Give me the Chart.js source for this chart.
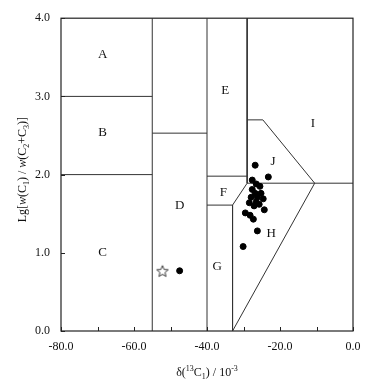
<!DOCTYPE html>
<html>
<head>
<meta charset="utf-8">
<script src="https://cdn.jsdelivr.net/npm/chart.js@4.4.1/dist/chart.umd.min.js"></script>
<style>
  html, body { margin: 0; padding: 0; background: #fff; }
</style>
</head>
<body>
<canvas id="chart" width="370" height="389"></canvas>
<script>
// sample points, delta13C1 vs Lg[w(C1)/w(C2+C3)]
const sample_x = [-26.8, -23.2, -27.6, -26.5, -25.5, -27.6, -26.8, -25.2, -27.9, -26.2, -24.6,
                  -28.4, -26.5, -27.1, -25.7, -24.3, -29.5, -28.2, -27.3, -26.2, -30.1, -47.5];
const sample_y = [2.12, 1.97, 1.93, 1.88, 1.85, 1.81, 1.76, 1.76, 1.71, 1.71, 1.69,
                  1.64, 1.65, 1.60, 1.62, 1.55, 1.51, 1.48, 1.43, 1.28, 1.08, 0.77];
const star_x = [-52.2];
const star_y = [0.77];

// region boundaries (data coordinates)
const boundaries = [
  [[-80, 3.0], [-55, 3.0]],
  [[-80, 2.0], [-55, 2.0]],
  [[-55, 0], [-55, 4.0]],
  [[-55, 2.53], [-40, 2.53]],
  [[-40, 0], [-40, 4.0]],
  [[-29, 4.0], [-29, 1.89]],
  [[-40, 1.98], [-29, 1.98]],
  [[-29, 2.70], [-24.7, 2.70], [-10.5, 1.89]],
  [[-29, 1.89], [0, 1.89]],
  [[-29, 1.89], [-33, 1.61], [-33, 0]],
  [[-40, 1.61], [-33, 1.61]],
  [[-10.5, 1.89], [-33, 0]]
];

const region_names = ['A', 'B', 'C', 'D', 'E', 'F', 'G', 'H', 'I', 'J'];
const region_x = [-68.6, -68.6, -68.6, -47.5, -35.0, -35.5, -37.2, -22.4, -11.0, -21.9];
const region_y = [3.54, 2.54, 1.0, 1.61, 3.08, 1.77, 0.82, 1.25, 2.65, 2.17];

const x_ticks = [-80, -70, -60, -50, -40, -30, -20, -10, 0];
const y_ticks = [0, 1, 2, 3, 4];

const serif = '"Liberation Serif", "DejaVu Serif", serif';

// axis titles as runs: [text, style] where style n=normal, i=italic, b=subscript, p=superscript
const x_title = [['δ(', 'n'], ['13', 'p'], ['C', 'n'], ['1', 'b'], [') / 10', 'n'], ['-3', 'p']];
const y_title = [['Lg[', 'n'], ['w', 'i'], ['(C', 'n'], ['1', 'b'], [') / ', 'n'], ['w', 'i'],
                 ['(C', 'n'], ['2', 'b'], ['+C', 'n'], ['3', 'b'], [')]', 'n']];

// open five-point star marker
function makeStar(r) {
  const c = document.createElement('canvas');
  c.width = c.height = r * 2 + 4;
  const g = c.getContext('2d');
  g.beginPath();
  for (let i = 0; i < 10; i++) {
    const rad = i % 2 === 0 ? r : r * 0.45;
    const a = -Math.PI / 2 + i * Math.PI / 5;
    const px = c.width / 2 + rad * Math.cos(a);
    const py = c.height / 2 + rad * Math.sin(a) + 0.8;
    if (i === 0) g.moveTo(px, py); else g.lineTo(px, py);
  }
  g.closePath();
  g.strokeStyle = '#222';
  g.lineWidth = 0.9;
  g.stroke();
  return c;
}

function runFont(style) {
  if (style === 'i') return 'italic 12px ' + serif;
  if (style === 'b' || style === 'p') return '8px ' + serif;
  return '12px ' + serif;
}

function runsWidth(ctx, runs) {
  let w = 0;
  runs.forEach(r => { ctx.font = runFont(r[1]); w += ctx.measureText(r[0]).width; });
  return w;
}

// draws runs centred at (0,0) on current transform
function drawRuns(ctx, runs) {
  let cx = -runsWidth(ctx, runs) / 2;
  ctx.textBaseline = 'alphabetic';
  ctx.textAlign = 'left';
  runs.forEach(r => {
    ctx.font = runFont(r[1]);
    let dy = 4;
    if (r[1] === 'b') dy = 7;
    if (r[1] === 'p') dy = -1;
    ctx.fillText(r[0], cx, dy);
    cx += ctx.measureText(r[0]).width;
  });
}

let datasets = [];
boundaries.forEach(seg => {
  datasets.push({
    data: seg.map(p => ({x: p[0], y: p[1]})),
    showLine: true,
    borderColor: '#333',
    borderWidth: 1,
    pointRadius: 0,
    fill: false,
    order: 2
  });
});
datasets.push({
  data: sample_x.map((v, i) => ({x: v, y: sample_y[i]})),
  backgroundColor: '#000',
  borderColor: '#000',
  pointRadius: 3,
  showLine: false,
  order: 1
});
datasets.push({
  data: star_x.map((v, i) => ({x: v, y: star_y[i]})),
  pointStyle: makeStar(6),
  showLine: false,
  order: 1
});

const framePlugin = {
  id: 'frame',
  afterDraw(chart) {
    const {ctx, chartArea: a, scales: {x, y}} = chart;
    ctx.save();
    ctx.strokeStyle = '#222';
    ctx.lineWidth = 1.2;
    ctx.strokeRect(a.left, a.top, a.right - a.left, a.bottom - a.top);
    ctx.lineWidth = 1;
    x_ticks.forEach(v => {
      const px = Math.round(x.getPixelForValue(v)) + 0.5;
      ctx.beginPath();
      ctx.moveTo(px, a.bottom);
      ctx.lineTo(px, a.bottom - 4);
      ctx.stroke();
    });
    y_ticks.forEach(v => {
      const py = Math.round(y.getPixelForValue(v)) + 0.5;
      ctx.beginPath();
      ctx.moveTo(a.left, py);
      ctx.lineTo(a.left + 4, py);
      ctx.stroke();
    });
    // region letters
    ctx.fillStyle = '#111';
    ctx.font = '13px ' + serif;
    ctx.textAlign = 'center';
    ctx.textBaseline = 'middle';
    region_names.forEach((n, i) => {
      ctx.fillText(n, x.getPixelForValue(region_x[i]), y.getPixelForValue(region_y[i]));
    });
    // axis titles
    ctx.save();
    ctx.translate((a.left + a.right) / 2, 372);
    drawRuns(ctx, x_title);
    ctx.restore();
    ctx.save();
    ctx.translate(22, (a.top + a.bottom) / 2 - 5);
    ctx.rotate(-Math.PI / 2);
    drawRuns(ctx, y_title);
    ctx.restore();
    ctx.restore();
  }
};

new Chart(document.getElementById('chart'), {
  type: 'scatter',
  data: {datasets: datasets},
  options: {
    responsive: false,
    devicePixelRatio: 1,
    animation: false,
    layout: {padding: {top: 16, right: 17, left: 0, bottom: 0}},
    plugins: {legend: {display: false}, tooltip: {enabled: false}},
    scales: {
      x: {
        type: 'linear',
        min: -80, max: 0,
        afterFit: s => { s.height = 58; },
        grid: {display: false, drawTicks: false},
        border: {display: false},
        ticks: {
          stepSize: 10,
          autoSkip: false,
          maxRotation: 0,
          padding: 9,
          color: '#111',
          font: {family: serif, size: 12},
          callback: v => (v % 20 === 0 ? v.toFixed(1) : '')
        }
      },
      y: {
        min: 0, max: 4,
        afterFit: s => { s.width = 61; },
        grid: {display: false, drawTicks: false},
        border: {display: false},
        ticks: {
          stepSize: 1,
          padding: 11,
          color: '#111',
          font: {family: serif, size: 12},
          callback: v => v.toFixed(1)
        }
      }
    }
  },
  plugins: [framePlugin]
});
</script>
</body>
</html>
